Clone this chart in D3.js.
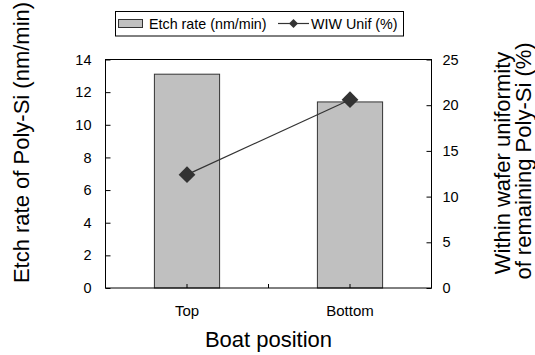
<!DOCTYPE html>
<html>
<head>
<meta charset="utf-8">
<script src="https://cdn.jsdelivr.net/npm/d3@7"></script>
<style>
  body { margin: 0; background: #fff; }
  text { font-family: "Liberation Sans", Arial, sans-serif; fill: #000; }
</style>
</head>
<body>
<svg width="535" height="355"></svg>
<script>
// data
const positions = ["Top", "Bottom"];
const etchRate = [13.1, 11.4];      // nm/min, left axis
const wiwUnif = [12.4, 20.6];       // %, right axis
const leftTicks = [0, 2, 4, 6, 8, 10, 12, 14];
const rightTicks = [0, 5, 10, 15, 20, 25];

const svg = d3.select("svg");
const margin = {left: 105.5, right: 103.5, top: 59.5, bottom: 67};
const width = 535 - margin.left - margin.right,
      height = 355 - margin.top - margin.bottom;

const g = svg.append("g").attr("transform", `translate(${margin.left},${margin.top})`);

const x = d3.scaleBand().domain(positions).range([0, width]).padding(0);
const yL = d3.scaleLinear().domain([0, 14]).range([height, 0]);
const yR = d3.scaleLinear().domain([0, 25]).range([height, 0]);

// bars
const barW = x.bandwidth() * 0.4;
g.selectAll("rect.bar")
  .data(positions)
  .join("rect")
  .attr("class", "bar")
  .attr("x", d => x(d) + x.bandwidth() / 2 - barW / 2)
  .attr("y", (d, i) => yL(etchRate[i]))
  .attr("width", barW)
  .attr("height", (d, i) => height - yL(etchRate[i]))
  .attr("fill", "#c0c0c0")
  .attr("stroke", "#333")
  .attr("stroke-width", 1);

// frame
g.append("rect")
  .attr("width", width).attr("height", height)
  .attr("fill", "none").attr("stroke", "#000").attr("stroke-width", 1);

// left axis
const axL = g.append("g")
  .call(d3.axisLeft(yL).tickValues(leftTicks).tickSize(-5).tickPadding(14));
axL.select(".domain").remove();
axL.selectAll("text").attr("font-size", 14.5);

// right axis
const axR = g.append("g").attr("transform", `translate(${width},0)`)
  .call(d3.axisRight(yR).tickValues(rightTicks).tickSize(-5).tickPadding(11));
axR.select(".domain").remove();
axR.selectAll("text").attr("font-size", 14.5);

// bottom ticks: category centres and boundary
const tickPos = [x.bandwidth() / 2, x.bandwidth(), x.bandwidth() * 1.5];
g.selectAll("line.xt").data(tickPos).join("line")
  .attr("x1", d => d).attr("x2", d => d)
  .attr("y1", height).attr("y2", height - 4)
  .attr("stroke", "#000");
g.selectAll("text.xl").data(positions).join("text")
  .attr("class", "xl")
  .attr("x", d => x(d) + x.bandwidth() / 2)
  .attr("y", height + 28)
  .attr("text-anchor", "middle")
  .attr("font-size", 15)
  .text(d => d);

// line + diamonds
const cx = d => x(d) + x.bandwidth() / 2;
g.append("path")
  .datum(positions)
  .attr("d", d3.line().x(cx).y((d, i) => yR(wiwUnif[i])))
  .attr("fill", "none").attr("stroke", "#333").attr("stroke-width", 1.2);
const diamond = d3.symbol().type(d3.symbolSquare).size(140);
g.selectAll("path.dm").data(positions).join("path")
  .attr("class", "dm")
  .attr("d", diamond)
  .attr("transform", (d, i) => `translate(${cx(d)},${yR(wiwUnif[i])}) rotate(45)`)
  .attr("fill", "#333");

// axis titles
svg.append("text")
  .attr("transform", "translate(29,142.5) rotate(-90)")
  .attr("text-anchor", "middle")
  .attr("font-size", 22)
  .text("Etch rate of Poly-Si (nm/min)");
svg.append("text")
  .attr("transform", "translate(510,163) rotate(-90)")
  .attr("text-anchor", "middle")
  .attr("font-size", 22)
  .text("Within wafer uniformity");
svg.append("text")
  .attr("transform", "translate(531,161) rotate(-90)")
  .attr("text-anchor", "middle")
  .attr("font-size", 22)
  .text("of remaining Poly-Si (%)");
svg.append("text")
  .attr("x", margin.left + width / 2).attr("y", 347)
  .attr("text-anchor", "middle")
  .attr("font-size", 22)
  .text("Boat position");

// legend
const lg = svg.append("g");
lg.append("rect").attr("x", 115.5).attr("y", 11.5).attr("width", 288).attr("height", 24.5)
  .attr("fill", "#fff").attr("stroke", "#000");
lg.append("rect").attr("x", 118.5).attr("y", 19.5).attr("width", 24).attr("height", 8)
  .attr("fill", "#c0c0c0").attr("stroke", "#333");
lg.append("text").attr("x", 149).attr("y", 29).attr("font-size", 14.3).text("Etch rate (nm/min)");
lg.append("line").attr("x1", 278).attr("x2", 309).attr("y1", 23.5).attr("y2", 23.5)
  .attr("stroke", "#333").attr("stroke-width", 1.2);
lg.append("path").attr("d", d3.symbol().type(d3.symbolSquare).size(40))
  .attr("transform", "translate(293.5,23.5) rotate(45)").attr("fill", "#333");
lg.append("text").attr("x", 311).attr("y", 29).attr("font-size", 14.3).text("WIW Unif (%)");
</script>
</body>
</html>
